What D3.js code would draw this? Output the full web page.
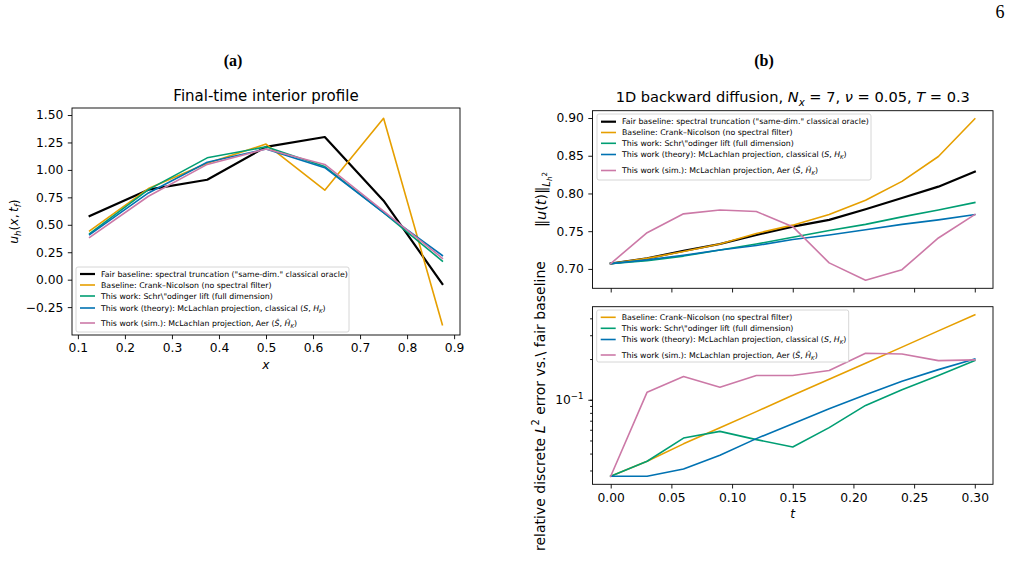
<!DOCTYPE html>
<html>
<head>
<meta charset="utf-8">
<script src="https://cdn.jsdelivr.net/npm/d3@7"></script>
<style>
  body { margin: 0; background: #fff; }
  svg { display: block; font-family: "DejaVu Sans", sans-serif; }
  text { fill: #000; }
</style>
</head>
<body>
<svg id="fig" width="1012" height="561"></svg>
<script>
// ---- data ----
var xProfile   = [0.125, 0.25, 0.375, 0.5, 0.625, 0.75, 0.875];
var profFair   = [0.58, 0.82, 0.91, 1.21, 1.30, 0.72, -0.04];
var profCN     = [0.445, 0.83, 1.06, 1.235, 0.815, 1.47, -0.41];
var profSchr   = [0.42, 0.82, 1.11, 1.21, 1.03, 0.61, 0.17];
var profTheory = [0.41, 0.79, 1.07, 1.19, 1.02, 0.61, 0.22];
var profSim    = [0.385, 0.76, 1.05, 1.19, 1.05, 0.625, 0.195];

var tGrid      = [0, 0.03, 0.06, 0.09, 0.12, 0.15, 0.18, 0.21, 0.24, 0.27, 0.30];
var normFair   = [0.7071, 0.714, 0.724, 0.733, 0.745, 0.756, 0.765, 0.779, 0.794, 0.809, 0.829];
var normCN     = [0.7071, 0.714, 0.723, 0.733, 0.747, 0.758, 0.772, 0.791, 0.816, 0.849, 0.899];
var normSchr   = [0.7071, 0.711, 0.717, 0.725, 0.733, 0.742, 0.751, 0.759, 0.769, 0.778, 0.788];
var normTheory = [0.7071, 0.712, 0.718, 0.725, 0.731, 0.739, 0.745, 0.752, 0.759, 0.765, 0.772];
var normSim    = [0.7071, 0.748, 0.773, 0.778, 0.776, 0.756, 0.708, 0.685, 0.699, 0.741, 0.772];

var errCN      = [0.0272, 0.0351, 0.0472, 0.0621, 0.0817, 0.108, 0.1416, 0.186, 0.245, 0.323, 0.425];
var errSchr    = [0.0272, 0.0351, 0.0521, 0.0584, 0.0507, 0.0448, 0.0622, 0.0908, 0.1185, 0.151, 0.1948];
var errTheory  = [0.0272, 0.0272, 0.0308, 0.0389, 0.0516, 0.0665, 0.0858, 0.1088, 0.137, 0.167, 0.2005];
var errSim     = [0.0272, 0.1138, 0.1485, 0.1238, 0.151, 0.151, 0.1644, 0.2205, 0.218, 0.1948, 0.197];

var xTicksA = [0.1, 0.2, 0.3, 0.4, 0.5, 0.6, 0.7, 0.8, 0.9];
var yTicksA = [-0.25, 0, 0.25, 0.5, 0.75, 1.0, 1.25, 1.5];
var tTicks  = [0, 0.05, 0.10, 0.15, 0.20, 0.25, 0.30];
var yTicksB = [0.70, 0.75, 0.80, 0.85, 0.90];

// rich text bits: plain strings, italic, sub/superscripts
function I(t) { return { t: t, it: 1 }; }
function SUB(t, it) { return { t: t, it: it === undefined ? 1 : it, y: 0.25, s: 0.7 }; }
function SUP(t) { return { t: t, y: -0.4, s: 0.7 }; }

var LBL_FAIR   = ['Fair baseline: spectral truncation ("same-dim." classical oracle)'];
var LBL_CN     = ['Baseline: Crank\u2013Nicolson (no spectral filter)'];
var LBL_SCHR   = ['This work: Schr\\"odinger lift (full dimension)'];
var LBL_THEORY = ['This work (theory): McLachlan projection, classical (', I('S'), ', ', I('H'), SUB('K'), ')'];
var LBL_SIM    = ['This work (sim.): McLachlan projection, Aer (', I('\u015C'), ', ', I('\u0124'), SUB('K'), ')'];

var COL = { fair: '#000000', cn: '#E69F00', schr: '#009E73', theory: '#0072B2', sim: '#CC79A7' };

var svg = d3.select('#fig');

function rich(sel, segs, fs) {
  var cur = 0;
  segs.forEach(function (sg) {
    if (typeof sg === 'string') sg = { t: sg };
    var y = sg.y || 0;
    var ts = sel.append('tspan').text(sg.t).attr('font-size', fs * (sg.s || 1));
    if (y !== cur) { ts.attr('dy', (y - cur) * fs); cur = y; }
    if (sg.it) ts.attr('font-style', 'italic');
  });
  return sel;
}

function frame(g, b) {
  g.append('rect').attr('x', b.x0).attr('y', b.y0).attr('width', b.x1 - b.x0).attr('height', b.y1 - b.y0)
    .attr('fill', 'none').attr('stroke', '#000').attr('stroke-width', 0.9);
}

function styleAxis(ax) {
  ax.select('.domain').remove();
  ax.selectAll('line').attr('stroke', '#000').attr('stroke-width', 0.9);
  ax.selectAll('text').attr('font-size', 12.3).attr('font-family', '"DejaVu Sans", sans-serif').attr('fill', '#000');
}

function drawLines(g, x, y, xs, series) {
  var line = d3.line().x(function (d, i) { return x(xs[i]); }).y(function (d) { return y(d); });
  series.forEach(function (s) {
    g.append('path').datum(s.v).attr('d', line).attr('fill', 'none')
      .attr('stroke', s.c).attr('stroke-width', s.w).attr('stroke-linejoin', 'round').attr('stroke-linecap', 'square');
  });
}

function legend(g, b, rows) {
  g.append('rect').attr('x', b.x).attr('y', b.y).attr('width', b.w).attr('height', b.h).attr('rx', 2)
    .attr('fill', '#fff').attr('fill-opacity', 0.85).attr('stroke', '#cccccc').attr('stroke-width', 0.8);
  rows.forEach(function (r) {
    g.append('line').attr('x1', b.x + 4).attr('x2', b.x + 19).attr('y1', r.y).attr('y2', r.y)
      .attr('stroke', r.c).attr('stroke-width', r.w);
    rich(g.append('text').attr('x', b.x + 25).attr('y', r.y + 2.7), r.label, 7.8);
  });
}

function pad(ext, f) { var r = ext[1] - ext[0]; return [ext[0] - f * r, ext[1] + f * r]; }

// ---------- panel (a) ----------
var A = { x0: 72, x1: 460, y0: 108, y1: 335 };
var gA = svg.append('g');
var xA = d3.scaleLinear().domain(pad(d3.extent(xProfile), 0.05)).range([A.x0, A.x1]);
var yA = d3.scaleLinear()
  .domain(pad(d3.extent([].concat(profFair, profCN, profSchr, profTheory, profSim)), 0.05))
  .range([A.y1, A.y0]);

var axA = gA.append('g').attr('transform', 'translate(0,' + A.y1 + ')')
  .call(d3.axisBottom(xA).tickValues(xTicksA).tickSize(4.2).tickPadding(4.5).tickFormat(d3.format('.1f')));
styleAxis(axA);
var ayA = gA.append('g').attr('transform', 'translate(' + A.x0 + ',0)')
  .call(d3.axisLeft(yA).tickValues(yTicksA).tickSize(4.2).tickPadding(4.5)
    .tickFormat(function (d) { return d3.format('.2f')(d).replace('-', '\u2212'); }));
styleAxis(ayA);

drawLines(gA, xA, yA, xProfile, [
  { v: profFair, c: COL.fair, w: 2.2 },
  { v: profCN, c: COL.cn, w: 1.6 },
  { v: profSchr, c: COL.schr, w: 1.6 },
  { v: profTheory, c: COL.theory, w: 1.6 },
  { v: profSim, c: COL.sim, w: 1.6 }
]);
frame(gA, A);
legend(gA, { x: 76, y: 267, w: 273, h: 65 }, [
  { y: 274, c: COL.fair, w: 2.2, label: LBL_FAIR },
  { y: 285, c: COL.cn, w: 1.6, label: LBL_CN },
  { y: 296, c: COL.schr, w: 1.6, label: LBL_SCHR },
  { y: 308, c: COL.theory, w: 1.6, label: LBL_THEORY },
  { y: 323, c: COL.sim, w: 1.6, label: LBL_SIM }
]);

gA.append('text').attr('x', (A.x0 + A.x1) / 2).attr('y', 101).attr('text-anchor', 'middle')
  .attr('font-size', 15).text('Final-time interior profile');
gA.append('text').attr('x', (A.x0 + A.x1) / 2).attr('y', 369).attr('text-anchor', 'middle')
  .attr('font-size', 12.3).attr('font-style', 'italic').text('x');
rich(gA.append('text').attr('transform', 'translate(17.5,' + (A.y0 + A.y1) / 2 + ') rotate(-90)')
  .attr('text-anchor', 'middle'), [I('u'), SUB('h'), '(', I('x'), ',\u2009', I('t'), SUB('f'), ')'], 12.3);

// ---------- panel (b) top ----------
var BT = { x0: 592.5, x1: 993, y0: 110.7, y1: 288.3 };
var BB = { x0: 592.5, x1: 993, y0: 306.7, y1: 484.3 };
var gB = svg.append('g');
var xB = d3.scaleLinear().domain(pad(d3.extent(tGrid), 0.05)).range([BT.x0, BT.x1]);
var yBT = d3.scaleLinear()
  .domain(pad(d3.extent([].concat(normFair, normCN, normSchr, normTheory, normSim)), 0.05))
  .range([BT.y1, BT.y0]);

var axBT = gB.append('g').attr('transform', 'translate(0,' + BT.y1 + ')')
  .call(d3.axisBottom(xB).tickValues(tTicks).tickSize(4.2).tickFormat(''));
styleAxis(axBT);
var ayBT = gB.append('g').attr('transform', 'translate(' + BT.x0 + ',0)')
  .call(d3.axisLeft(yBT).tickValues(yTicksB).tickSize(4.2).tickPadding(4.5).tickFormat(d3.format('.2f')));
styleAxis(ayBT);

drawLines(gB, xB, yBT, tGrid, [
  { v: normFair, c: COL.fair, w: 2.2 },
  { v: normCN, c: COL.cn, w: 1.6 },
  { v: normSchr, c: COL.schr, w: 1.6 },
  { v: normTheory, c: COL.theory, w: 1.6 },
  { v: normSim, c: COL.sim, w: 1.6 }
]);
frame(gB, BT);
legend(gB, { x: 597, y: 114, w: 274, h: 66 }, [
  { y: 121.7, c: COL.fair, w: 2.2, label: LBL_FAIR },
  { y: 132.5, c: COL.cn, w: 1.6, label: LBL_CN },
  { y: 143.3, c: COL.schr, w: 1.6, label: LBL_SCHR },
  { y: 154.5, c: COL.theory, w: 1.6, label: LBL_THEORY },
  { y: 170.5, c: COL.sim, w: 1.6, label: LBL_SIM }
]);

rich(gB.append('text').attr('x', (BT.x0 + BT.x1) / 2).attr('y', 102).attr('text-anchor', 'middle'),
  ['1D backward diffusion, ', I('N'), SUB('x'), ' = 7, ', I('\u03BD'), ' = 0.05, ', I('T'), ' = 0.3'], 14.6);
rich(gB.append('text').attr('transform', 'translate(546,' + (BT.y0 + BT.y1) / 2 + ') rotate(-90)')
  .attr('text-anchor', 'middle'),
  ['\u2016', I('u'), '(', I('t'), ')\u2016', { t: 'L', it: 1, y: 0.3, s: 0.7 }, { t: 'h', it: 1, y: 0.45, s: 0.5 },
   { t: '2', y: 0.05, s: 0.5 }], 14.4);

// ---------- panel (b) bottom (log) ----------
var errAll = [].concat(errCN, errSchr, errTheory, errSim);
var lg = pad(d3.extent(errAll).map(Math.log10), 0.05);
var yBB = d3.scaleLog().domain([Math.pow(10, lg[0]), Math.pow(10, lg[1])]).range([BB.y1, BB.y0]);

var axBB = gB.append('g').attr('transform', 'translate(0,' + BB.y1 + ')')
  .call(d3.axisBottom(xB).tickValues(tTicks).tickSize(4.2).tickPadding(4.5).tickFormat(d3.format('.2f')));
styleAxis(axBB);
var minorB = gB.append('g').attr('transform', 'translate(' + BB.x0 + ',0)')
  .call(d3.axisLeft(yBB).ticks(10).tickSize(2.4).tickFormat(''));
styleAxis(minorB);
var majorB = gB.append('g').attr('transform', 'translate(' + BB.x0 + ',0)')
  .call(d3.axisLeft(yBB).tickValues([0.1]).tickSize(4.2).tickFormat(''));
styleAxis(majorB);
rich(gB.append('text').attr('x', BB.x0 - 9).attr('y', yBB(0.1) + 4.5).attr('text-anchor', 'end'),
  ['10', SUP('\u22121')], 12.3);

drawLines(gB, xB, yBB, tGrid, [
  { v: errCN, c: COL.cn, w: 1.6 },
  { v: errSchr, c: COL.schr, w: 1.6 },
  { v: errTheory, c: COL.theory, w: 1.6 },
  { v: errSim, c: COL.sim, w: 1.6 }
]);
frame(gB, BB);
legend(gB, { x: 596.7, y: 310, w: 252, h: 52 }, [
  { y: 317.3, c: COL.cn, w: 1.6, label: LBL_CN },
  { y: 328.3, c: COL.schr, w: 1.6, label: LBL_SCHR },
  { y: 339.5, c: COL.theory, w: 1.6, label: LBL_THEORY },
  { y: 355, c: COL.sim, w: 1.6, label: LBL_SIM }
]);

gB.append('text').attr('x', (BB.x0 + BB.x1) / 2).attr('y', 518).attr('text-anchor', 'middle')
  .attr('font-size', 12.3).attr('font-style', 'italic').text('t');
rich(gB.append('text').attr('transform', 'translate(545,406) rotate(-90)')
  .attr('text-anchor', 'middle'),
  ['relative discrete ', I('L'), SUP('2'), ' error vs.\\ fair baseline'], 14);

// ---------- page decorations ----------
svg.append('text').attr('x', 233).attr('y', 66).attr('text-anchor', 'middle')
  .style('font-family', '"Liberation Serif", serif').attr('font-weight', 'bold').attr('font-size', 16).text('(a)');
svg.append('text').attr('x', 764).attr('y', 66).attr('text-anchor', 'middle')
  .style('font-family', '"Liberation Serif", serif').attr('font-weight', 'bold').attr('font-size', 16).text('(b)');
svg.append('text').attr('x', 1000).attr('y', 18).attr('text-anchor', 'middle')
  .style('font-family', '"Liberation Serif", serif').attr('font-size', 18).text('6');
</script>
</body>
</html>
